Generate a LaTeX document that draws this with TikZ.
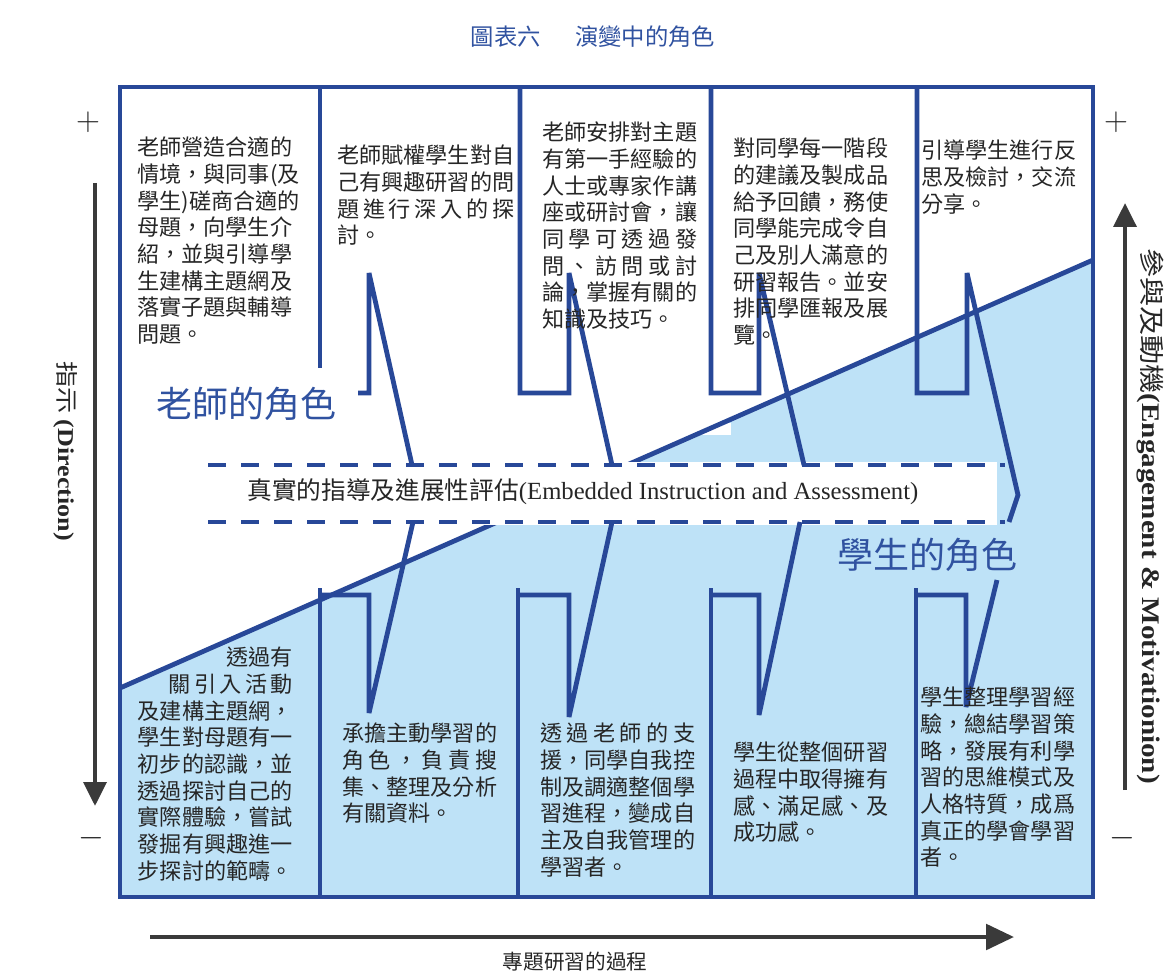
\documentclass[tikz,border=0pt]{standalone}
\usepackage{fontspec}
\setmainfont{Liberation Serif}
\newfontfamily\cjk{Noto Sans CJK TC}
\usetikzlibrary{arrows.meta}
\definecolor{roleblue}{RGB}{40,72,152}
\definecolor{labelblue}{RGB}{48,82,160}
\definecolor{fillblue}{RGB}{190,226,247}
\definecolor{axisgray}{RGB}{58,58,58}
\newcommand{\spreadln}[2]{\makebox[#1][s]{#2}}

\begin{document}
\begin{tikzpicture}[x=0.75pt,y=0.75pt,yscale=-1,xscale=1,
  edge/.style={draw=roleblue,line width=3.6pt,line join=miter,miter limit=4},
  band/.style={draw=roleblue,line width=3.4pt,dash pattern={on 13.5pt off 11.25pt}},
  body/.style={anchor=north west,inner sep=0pt,align=left,text=black!85,font=\cjk\fontsize{16.6}{20}\selectfont},
  role/.style={inner sep=0pt,text=labelblue,font=\cjk\fontsize{27}{30}\selectfont},
  axis/.style={draw=axisgray,line width=3.4pt,-{Triangle[length=18pt,width=17pt]}},
  sign/.style={inner sep=0pt,text=black!85,font=\fontsize{24}{24}\selectfont}]
\useasboundingbox (0,0) rectangle (1166,980);

%% student half and the band
\fill [fillblue] (120,688) -- (1093,260) -- (1093,897) -- (120,897) -- cycle ;
\fill [white] (695,423) rectangle (731,435) ;
\draw [edge] (120,688) -- (1093,260) ;
\fill [white] (208,462) rectangle (997,525) ;
\draw [band] (208,465) -- (1005,465) ;
\draw [band] (208,522) -- (1005,522) ;

%% teeth above the band
\draw [edge] (320,87) -- (320,368) ;
\draw [edge] (358,393) -- (369,393) -- (369,273) -- (412,465) ;
\draw [edge] (520,87) -- (520,393) -- (569,393) -- (569,273) -- (612,465) ;
\draw [edge] (711,87) -- (711,393) -- (759,393) -- (759,273) -- (804,465) ;
\draw [edge] (917,87) -- (917,393) -- (967,393) -- (967,273) -- (1018,495) -- (1009,522) ;

%% teeth below the band
\draw [edge] (320,897) -- (320,588) ;
\draw [edge] (320,595) -- (369,595) -- (369,713) -- (413,522) ;
\draw [edge] (518,897) -- (518,588) ;
\draw [edge] (518,595) -- (569,595) -- (569,717) -- (612,522) ;
\draw [edge] (711,897) -- (711,588) ;
\draw [edge] (711,595) -- (759,595) -- (759,715) -- (800,522) ;
\draw [edge] (916,897) -- (916,588) ;
\draw [edge] (916,595) -- (966,595) -- (966,707) -- (997,580) ;

\draw [edge] (120,87) rectangle (1093,897) ;

%% texts of the teacher
\draw (137,137) node (teach1) [body] {老師營造合適的\\情境，與同事(及\\學生)磋商合適的\\母題，向學生介\\紹，並與引導學\\生建構主題網及\\落實子題與輔導\\問題。};
\draw (337,145) node (teach2) [body] {老師賦權學生對自\\己有興趣研習的問\\\spreadln{8em}{題 進 行 深 入 的 探}\\討。};
\draw (542,122) node (teach3) [body] {老師安排對主題\\有第一手經驗的\\人士或專家作講\\座或研討會，讓\\\spreadln{7em}{同 學 可 透 過 發}\\\spreadln{7em}{問 、 訪 問 或 討}\\論，掌握有關的\\知識及技巧。};
\draw (733,138) node (teach4) [body] {對同學每一階段\\的建議及製成品\\給予回饋，務使\\同學能完成令自\\己及別人滿意的\\研習報告。並安\\排同學匯報及展\\覽。};
\draw (921,140) node (teach5) [body] {引導學生進行反\\思及檢討，交流\\分享。};

%% texts of the student
\draw (293,647) node (stud1) [body,anchor=north east,align=right] {透過有\\\spreadln{5.6em}{關 引 入 活 動}\\及建構主題網，\\學生對母題有一\\初步的認識，並\\透過探討自己的\\實際體驗，嘗試\\發掘有興趣進一\\步探討的範疇。};
\draw (342,723) node (stud2) [body] {承擔主動學習的\\\spreadln{7em}{角 色 ， 負 責 搜}\\集、整理及分析\\有關資料。};
\draw (540,723) node (stud3) [body] {\spreadln{7em}{透 過 老 師 的 支}\\援，同學自我控\\制及調適整個學\\習進程，變成自\\主及自我管理的\\學習者。};
\draw (733,742) node (stud4) [body] {學生從整個研習\\過程中取得擁有\\感、滿足感、及\\成功感。};
\draw (920,687) node (stud5) [body] {學生整理學習經\\驗，總結學習策\\略，發展有利學\\習的思維模式及\\人格特質，成爲\\真正的學會學習\\者。};

\draw (246,404) node (teachrole) [role] {老師的角色};
\draw (927,555) node (studrole) [role] {學生的角色};
\draw (583,492) node (bandtxt) [inner sep=0pt,text=black!85,font=\fontsize{18.5}{22}\selectfont] {{\cjk 真實的指導及進展性評估}(Embedded Instruction and Assessment)};

%% title and axes
\draw (593,37) node (title) [inner sep=0pt,text=labelblue,font=\cjk\fontsize{17.5}{20}\selectfont] {圖表六\hspace{26pt}演變中的角色};
\draw (88,122) node (dirplus) [sign] {$+$};
\draw (91,838) node (dirminus) [sign] {$-$};
\draw (1116,122) node (engplus) [sign] {$+$};
\draw (1122,838) node (engminus) [sign] {$-$};
\coordinate (dirtop) at (95,183);
\coordinate (dirend) at (95,806);
\coordinate (engbot) at (1125,790);
\coordinate (engend) at (1125,203);
\coordinate (procstart) at (150,937);
\coordinate (procend) at (1014,937);
\draw [axis] (dirtop) -- (dirend) ;
\draw [axis] (engbot) -- (engend) ;
\draw [axis,-{Triangle[length=21pt,width=19pt]}] (procstart) -- (procend) ;
\draw (66,451) node (dirlabel) [inner sep=0pt,rotate=-90,text=black!85,font=\fontsize{17}{20}\selectfont] {\scalebox{1.15}[1]{{\cjk 指示} \textbf{(Direction)}}};
\draw (1150,516) node (englabel) [inner sep=0pt,rotate=-90,text=black!85,font=\fontsize{19}{22}\selectfont] {\scalebox{1.15}[1]{{\cjk 參與及動機}\textbf{(Engagement \& Motivationion)}}};
\draw (575,962) node (proclabel) [inner sep=0pt,text=black!85,font=\cjk\fontsize{15.5}{18}\selectfont] {專題研習的過程};
\end{tikzpicture}
\end{document}
